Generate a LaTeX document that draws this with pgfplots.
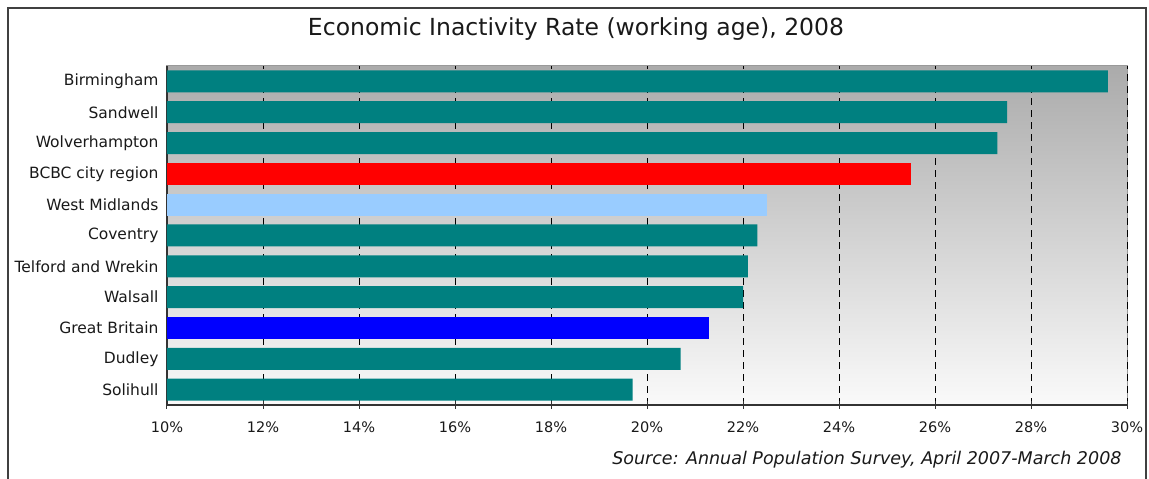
\documentclass[border=0pt]{standalone}
\usepackage{pgfplots}
\pgfplotsset{compat=1.18}
\usepackage{fontspec}
\setmainfont{DejaVu Sans}
\definecolor{teal2}{HTML}{008080}
\definecolor{lblue}{HTML}{99CCFF}
\begin{document}
\begin{tikzpicture}[x=1pt,y=1pt]
\useasboundingbox (0,0) rectangle (1149,479);
\draw[line width=2pt, color=black!75] (8,-20) -- (8,471) -- (1146,471) -- (1146,-20);
\node[font=\fontsize{23.5}{28}\selectfont, text=black!90] at (576,450) {Economic Inactivity Rate (working age), 2008};
\node[anchor=base east, font=\fontsize{17.5}{20}\selectfont\itshape, text=black!90] at (1125,14) {Source: Annual Population Survey, April 2007-March 2008};
\begin{axis}[at={(167pt,74pt)}, anchor=south west, scale only axis,
  width=960pt, height=339pt,
  xmin=10, xmax=30, ymin=-0.5, ymax=10.5,
  xbar, bar width=22pt, bar shift=0pt,
  axis x line*=bottom, axis y line*=left,
  axis line style={-, line width=1.5pt, black!80},
  axis background/.style={top color=black!33, bottom color=black!2, draw=black!40, line width=1pt},
  xtick={10,12,...,30},
  xticklabels={10\%,12\%,14\%,16\%,18\%,20\%,22\%,24\%,26\%,28\%,30\%},
  ytick={0,...,10},
  yticklabels={Solihull,Dudley,Great Britain,Walsall,Telford and Wrekin,Coventry,West Midlands,BCBC city region,Wolverhampton,Sandwell,Birmingham},
  xticklabel style={font=\fontsize{14.5}{16}\selectfont, text=black!90, yshift=-9pt},
  yticklabel style={font=\fontsize{15.5}{18}\selectfont, text=black!90, xshift=-1pt},
  tick align=center, major tick length=8pt,
  xtick style={black!80, line width=1pt},
  ytick style={draw=none},
  xmajorgrids, major grid style={black, line width=1pt, dash pattern=on 7pt off 5pt},
]
\addplot[fill=teal2, draw=none] coordinates {(19.7,0) (20.7,1) (22.0,3) (22.1,4) (22.3,5) (27.3,8) (27.5,9) (29.6,10)};
\addplot[fill=blue, draw=none] coordinates {(21.3,2)};
\addplot[fill=lblue, draw=none] coordinates {(22.5,6)};
\addplot[fill=red, draw=none] coordinates {(25.5,7)};
\end{axis}
\end{tikzpicture}
\end{document}
